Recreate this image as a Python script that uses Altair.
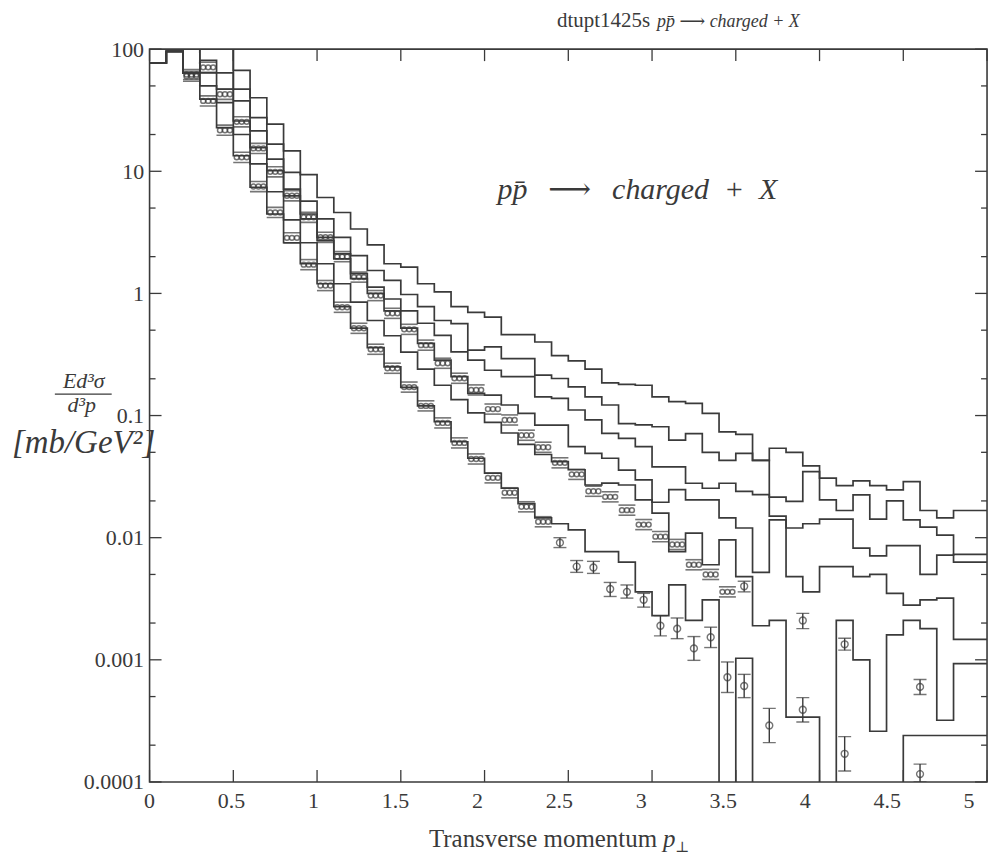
import altair as alt
import pandas as pd

# ---------------- data ----------------
PT_EDGES = [0.0, 0.1, 0.2, 0.3, 0.4, 0.5, 0.6, 0.7, 0.8, 0.9,
            1.0, 1.1, 1.2, 1.3, 1.4, 1.5, 1.6, 1.7, 1.8, 1.9,
            2.0, 2.1, 2.2, 2.3, 2.4, 2.5, 2.6, 2.7, 2.8, 2.9,
            3.0, 3.1, 3.2, 3.3, 3.4, 3.5, 3.6, 3.7, 3.8, 3.9,
            4.0, 4.1, 4.2, 4.3, 4.4, 4.5, 4.6, 4.7, 4.8, 4.9, 5.0]

CURVE_1 = [77, 96, 64, 200, 150, 67, 40, 24.3, 14.7, 9.4,
           6.1, 4.6, 3.37, 2.5, 1.75, 1.64, 1.2, 1.03, 0.78, 0.70,
           0.64, 0.46, 0.46, 0.40, 0.31, 0.28, 0.24, 0.185, 0.18, 0.177,
           0.142, 0.13, 0.126, 0.104, 0.0735, 0.07, 0.043, 0.054, 0.05, 0.0387,
           0.0307, 0.0267, 0.0292, 0.0267, 0.0246, 0.0288, 0.0167, 0.0145, 0.0167, 0.0167]
CURVE_2 = [77, 96, 64, 150, 110, 47, 27.5, 16.7, 9.8, 5.7,
           4.07, 2.88, 2.04, 1.54, 1.28, 0.98, 0.78, 0.60, 0.566, 0.343,
           0.365, 0.293, 0.293, 0.214, 0.201, 0.172, 0.142, 0.122, 0.086, 0.084,
           0.081, 0.063, 0.071, 0.05, 0.043, 0.049, 0.043, 0.0215, 0.0198, 0.0348,
           0.0204, 0.0167, 0.0224, 0.0142, 0.02, 0.014, 0.0122, 0.0105, 0.0063, 0.0063]
CURVE_3 = [77, 96, 64, 81, 64, 37.7, 21.4, 12.6, 7.15, 4.47,
           2.88, 2.11, 1.45, 1.125, 0.9, 0.72, 0.57, 0.454, 0.332, 0.284,
           0.235, 0.208, 0.208, 0.142, 0.138, 0.111, 0.092, 0.0714, 0.065, 0.0556,
           0.038, 0.038, 0.0279, 0.0254, 0.0279, 0.0239, 0.0225, 0.015, 0.012, 0.013,
           0.0142, 0.0142, 0.0082, 0.0071, 0.0086, 0.0086, 0.005, 0.0072, 0.0073, 0.0073]
CURVE_4 = [77, 96, 64, 64, 47, 25.8, 15.6, 10.1, 6.3, 4.07,
           2.71, 1.92, 1.32, 1.0, 0.72, 0.52, 0.39, 0.284, 0.208, 0.152,
           0.147, 0.122, 0.104, 0.0836, 0.0836, 0.0556, 0.049, 0.0447, 0.0358, 0.0297,
           0.0195, 0.0247, 0.0204, 0.0204, 0.0145, 0.012, 0.0052, 0.014, 0.0048, 0.0036,
           0.0058, 0.0058, 0.0048, 0.005, 0.0035, 0.0028, 0.0031, 0.0032, 0.00147, 0.00147]
CURVE_5 = [77, 96, 64, 50, 36.5, 20, 11.5, 6.8, 4.0, 2.6,
           1.75, 1.2, 0.85, 0.6, 0.45, 0.33, 0.24, 0.177, 0.135, 0.105,
           0.088, 0.072, 0.058, 0.048, 0.042, 0.036, 0.027, 0.028, 0.027, 0.0204,
           0.0159, 0.0077, 0.0109, 0.006, 0.0096, 0.0048, 0.0019, 0.0021, 0.00034, 0.00034,
           1e-6, 0.0021, 0.001, 0.00026, 0.0016, 0.0021, 0.0018, 0.00032, 0.00093, 0.00093]
CURVE_6 = [77, 96, 64, 39, 22.8, 13.4, 7.4, 4.47, 2.6, 1.75,
           1.2, 0.78, 0.52, 0.36, 0.25, 0.17, 0.12, 0.089, 0.061, 0.0447,
           0.0337, 0.0254, 0.019, 0.0145, 0.013, 0.0116, 0.0077, 0.0077, 0.0063, 0.0036,
           0.0023, 0.0041, 0.0021, 0.0031, 1e-6, 0.00103, 1e-6, 1e-6, 1e-6, 1e-6,
           1e-6, 1e-6, 1e-6, 1e-6, 1e-6, 0.00024, 0.00024, 0.00024, 0.00024, 0.00024]

# upper data set, triple-circle markers
UP_OOO_PT = [0.25, 0.35, 0.45, 0.55, 0.65, 0.75, 0.85, 0.95, 1.05, 1.15,
             1.25, 1.35, 1.45, 1.55, 1.65, 1.75, 1.85, 1.95, 2.05, 2.15,
             2.25, 2.35, 2.45, 2.55, 2.65, 2.75, 2.85, 2.95, 3.05, 3.15,
             3.25, 3.35, 3.45]
UP_OOO_VAL = [62, 71, 42.7, 25.4, 15.4, 9.9, 6.3, 4.2, 2.88, 2.0,
              1.36, 0.96, 0.687, 0.508, 0.377, 0.268, 0.202, 0.162, 0.113, 0.092,
              0.069, 0.055, 0.041, 0.033, 0.024, 0.0216, 0.0168, 0.0128, 0.0102, 0.0088,
              0.006, 0.005, 0.0036]
# lower data set, triple-circle markers
LO_OOO_PT = [0.25, 0.35, 0.45, 0.55, 0.65, 0.75, 0.85, 0.95, 1.05, 1.15,
             1.25, 1.35, 1.45, 1.55, 1.65, 1.75, 1.85, 1.95, 2.05, 2.15,
             2.25, 2.35]
LO_OOO_VAL = [60, 37.7, 21.7, 13.0, 7.5, 4.6, 2.85, 1.72, 1.16, 0.77,
              0.518, 0.349, 0.244, 0.171, 0.12, 0.087, 0.0597, 0.0441, 0.0309, 0.0233,
              0.0179, 0.0135]
# single markers with error bars
UP_PHI_PT = [3.55, 3.9, 4.15, 4.6]
UP_PHI_VAL = [0.004, 0.0021, 0.00134, 0.0006]
UP_PHI_LO = [0.0036, 0.0018, 0.0012, 0.00052]
UP_PHI_HI = [0.0044, 0.0024, 0.0015, 0.00069]
LO_PHI_PT = [2.45, 2.55, 2.65, 2.75, 2.85, 2.95, 3.05, 3.15, 3.25, 3.35,
             3.45, 3.55, 3.7, 3.9, 4.15, 4.6]
LO_PHI_VAL = [0.0091, 0.0058, 0.0057, 0.0038, 0.0036, 0.0031, 0.0019, 0.0018, 0.00124, 0.00153,
              0.00072, 0.00061, 0.00029, 0.00039, 0.00017, 0.000116]
LO_PHI_LO = [0.0083, 0.0052, 0.0051, 0.0033, 0.0032, 0.0027, 0.00157, 0.00149, 0.00099, 0.00126,
             0.00054, 0.00049, 0.00021, 0.00031, 0.000123, 0.0001]
LO_PHI_HI = [0.01, 0.0065, 0.0064, 0.0043, 0.0041, 0.0035, 0.0023, 0.0022, 0.00155, 0.00185,
             0.00096, 0.00076, 0.0004, 0.00049, 0.000235, 0.00014]

X_TICKS = [0, 0.5, 1, 1.5, 2, 2.5, 3, 3.5, 4, 4.5, 5]
Y_MAJOR = [0.0001, 0.001, 0.01, 0.1, 1, 10, 100]
Y_MINOR = [0.0002, 0.0005, 0.002, 0.005, 0.02, 0.05, 0.2, 0.5, 2, 5, 20, 50]

TITLE_LEFT = "dtupt1425s"
TITLE_RIGHT = "p\u0070\u0304 \u27f6 charged + X"
INNER_LABEL = "p\u0070\u0304\u2002\u2009\u27f6\u2002\u2009charged\u2002+\u2002X"
X_TITLE = "Transverse momentum"

# ---------------- chart ----------------
W, H = 840, 735
LABEL_SPAN = 822          # the printed x labels sit on a slightly narrower span
INK = "#3a3a3a"
SERIF = "Liberation Serif, DejaVu Serif, serif"

XS = alt.Scale(domain=[0, 5], nice=False, zero=False)
XL = alt.Scale(domain=[0, 5], nice=False, zero=False, range=[0, LABEL_SPAN])
YS = alt.Scale(type="log", domain=[0.0001, 100], nice=False)
AX_Y = alt.Axis(values=Y_MAJOR, labelExpr="toString(datum.value)", ticks=False,
                domain=False, grid=False, labelFont=SERIF, labelFontSize=22,
                labelColor=INK, labelPadding=6, labelFlush=False,
                labelOverlap=False, title=None)


def X(field):
    return alt.X(field, type="quantitative", scale=XS, axis=None)


def Y(field):
    return alt.Y(field, type="quantitative", scale=YS, axis=AX_Y)


curves = {"c1": CURVE_1, "c2": CURVE_2, "c3": CURVE_3,
          "c4": CURVE_4, "c5": CURVE_5, "c6": CURVE_6}
rows = []
for name, vals in curves.items():
    for i, v in enumerate(vals):
        rows.append({"curve": name, "pt": PT_EDGES[i], "v": v})
    rows.append({"curve": name, "pt": PT_EDGES[len(vals)], "v": vals[-1]})
hist = pd.DataFrame(rows)

hist_layer = alt.Chart(hist).mark_line(
    interpolate="step-after", clip=True, color=INK, strokeWidth=1.7
).encode(x=X("pt"), y=Y("v"), detail="curve:N")


def ooo_layers(pts, vals):
    df = pd.DataFrame({"pt": pts, "v": vals})
    base = alt.Chart(df).transform_calculate(
        lo="datum.v / 1.1", hi="datum.v * 1.1")
    out = []
    for off in (-5, 0, 5):
        out.append(base.mark_point(shape="circle", filled=False, size=24,
                                   strokeWidth=1.5, color=INK, clip=True).encode(
            x=X("pt"), y=Y("v"), xOffset=alt.value(off)))
    for fld in ("lo", "hi"):
        out.append(base.mark_tick(orient="horizontal", size=17, thickness=1.6,
                                  color=INK, clip=True).encode(
            x=X("pt"), y=Y(fld)))
    return out


def phi_layers(pts, vals, los, his):
    df = pd.DataFrame({"pt": pts, "v": vals, "lo": los, "hi": his})
    base = alt.Chart(df)
    return [
        base.mark_rule(color=INK, strokeWidth=1.4, clip=True).encode(
            x=X("pt"), y=Y("lo"), y2="hi:Q"),
        base.mark_tick(orient="horizontal", size=13, thickness=1.4, color=INK,
                       clip=True).encode(x=X("pt"), y=Y("lo")),
        base.mark_tick(orient="horizontal", size=13, thickness=1.4, color=INK,
                       clip=True).encode(x=X("pt"), y=Y("hi")),
        base.mark_point(shape="circle", filled=False, size=48, strokeWidth=1.4,
                        color=INK, clip=True).encode(x=X("pt"), y=Y("v")),
    ]


# inward ticks on all four sides
ymaj = alt.Chart(pd.DataFrame({"v": Y_MAJOR}))
ymin = alt.Chart(pd.DataFrame({"v": Y_MINOR}))
xt = alt.Chart(pd.DataFrame({"t": X_TICKS}))
tick_layers = [
    ymaj.mark_rule(color=INK, strokeWidth=1.3).encode(
        y=Y("v"), x=alt.value(0), x2=alt.value(12)),
    ymaj.mark_rule(color=INK, strokeWidth=1.3).encode(
        y=Y("v"), x=alt.value(W - 12), x2=alt.value(W)),
    ymin.mark_rule(color=INK, strokeWidth=1.3).encode(
        y=Y("v"), x=alt.value(0), x2=alt.value(6)),
    ymin.mark_rule(color=INK, strokeWidth=1.3).encode(
        y=Y("v"), x=alt.value(W - 6), x2=alt.value(W)),
    xt.mark_rule(color=INK, strokeWidth=1.3).encode(
        x=X("t"), y=alt.value(H - 12), y2=alt.value(H)),
    xt.mark_rule(color=INK, strokeWidth=1.3).encode(
        x=X("t"), y=alt.value(0), y2=alt.value(12)),
]

# x tick labels (real text, placed through their own scale)
xlabel_layer = xt.mark_text(font=SERIF, fontSize=22, color=INK, align="center",
                            baseline="top").encode(
    x=alt.X("t:Q", scale=XL, axis=None),
    y=alt.value(H + 9),
    text=alt.Text("t:Q", format="~g"))


def text_layer(txt, x, y, size, italic=False, align="left", baseline="alphabetic"):
    return alt.Chart(pd.DataFrame({"t": [txt]})).mark_text(
        font=SERIF, fontSize=size, fontStyle="italic" if italic else "normal",
        align=align, baseline=baseline, color=INK
    ).encode(text="t:N", x=alt.value(x), y=alt.value(y))


text_layers = [
    text_layer(TITLE_LEFT, 502, -22, 21, align="right"),
    text_layer(TITLE_RIGHT, 509, -22, 18, italic=True),
    text_layer(INNER_LABEL, 349, 150, 30, italic=True),
    text_layer(X_TITLE, 509, 800, 25, align="right"),
    text_layer("p", 515, 800, 25, italic=True),
    text_layer("\u22a5", 527, 805, 15),
    text_layer("Ed\u00b3\u03c3", -66, 340, 22, italic=True, align="center"),
    text_layer("d\u00b3p", -68, 364, 22, italic=True, align="center"),
    text_layer("[mb/GeV\u00b2]", -138, 405, 33, italic=True),
    alt.Chart(pd.DataFrame({"a": [0]})).mark_rule(color=INK, strokeWidth=1.2).encode(
        x=alt.value(-95), x2=alt.value(-38), y=alt.value(346)),
]

layers = ([hist_layer] + ooo_layers(UP_OOO_PT, UP_OOO_VAL) + ooo_layers(LO_OOO_PT, LO_OOO_VAL)
          + phi_layers(UP_PHI_PT, UP_PHI_VAL, UP_PHI_LO, UP_PHI_HI)
          + phi_layers(LO_PHI_PT, LO_PHI_VAL, LO_PHI_LO, LO_PHI_HI)
          + tick_layers + [xlabel_layer] + text_layers)

chart = alt.layer(*layers).resolve_scale(x="independent").properties(
    width=W, height=H,
    padding={"left": 142, "top": 40, "right": 12, "bottom": 72},
    autosize=alt.AutoSizeParams(type="none"),
    background="white",
).configure_view(stroke=INK, strokeWidth=1.6)

chart.save("out.html", embed_options={"renderer": "svg", "actions": False})
